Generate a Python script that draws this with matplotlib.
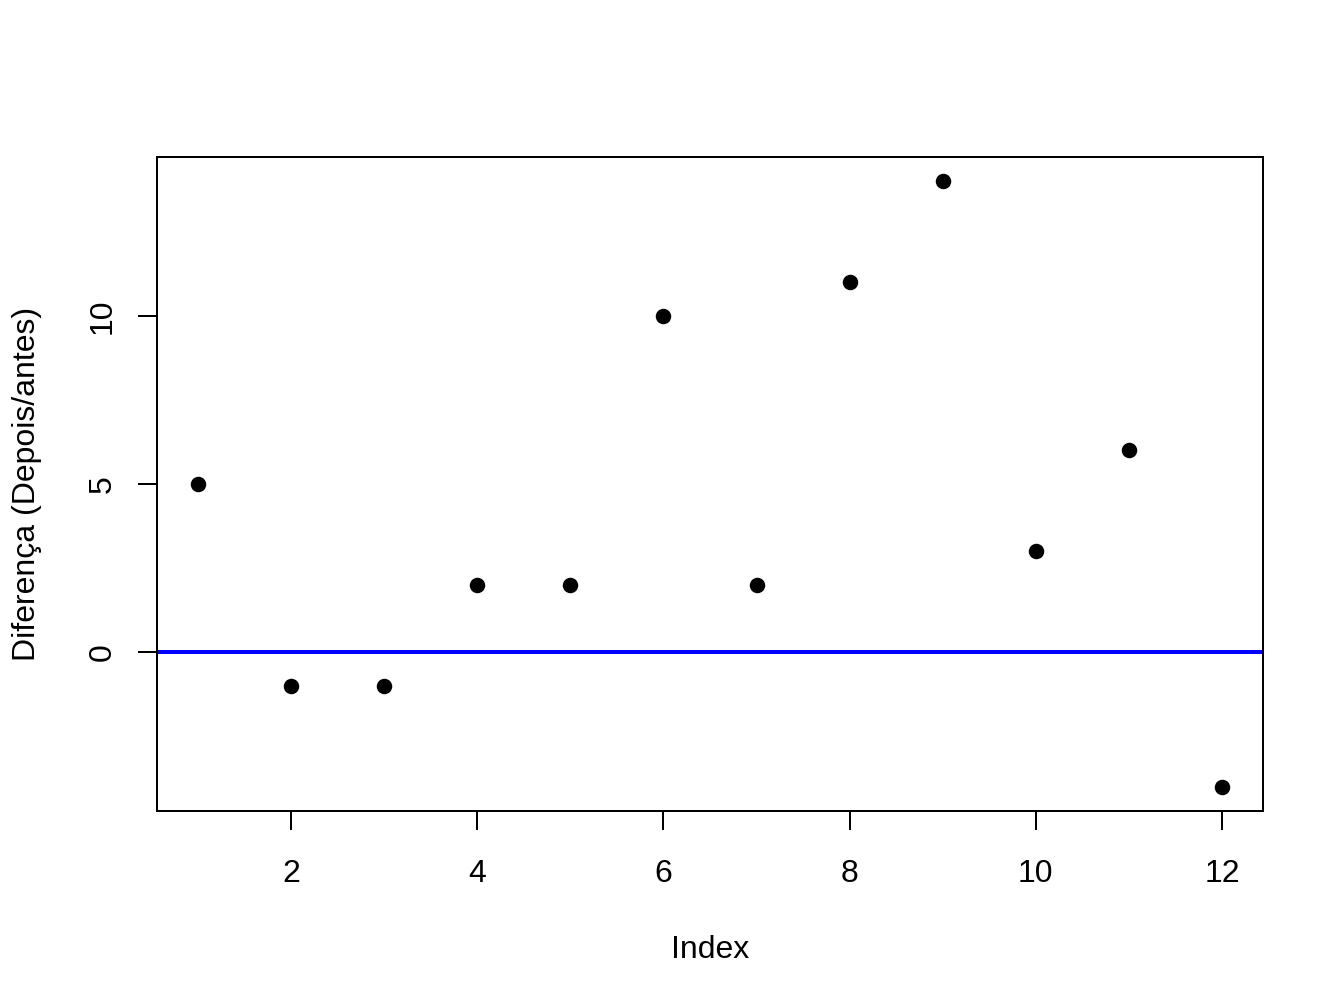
import numpy as np
import matplotlib
matplotlib.use("Agg")
from matplotlib import pyplot as plt

plt.rcParams['font.family'] = ['Liberation Sans', 'DejaVu Sans']

# Diferenca (depois - antes) por indice
index = np.arange(1, 13)
diferenca = [5, -1, -1, 2, 2, 10, 2, 11, 14, 3, 6, -4]
xticks = [2, 4, 6, 8, 10, 12]
yticks = [0, 5, 10]

fig = plt.figure(figsize=(7, 5.25), dpi=192)
ax = fig.add_axes([157 / 1344, 197 / 1008, 1106 / 1344, 654 / 1008])

ax.plot(index, diferenca, 'o', color='black', markersize=4.8, zorder=3)
ax.axhline(0, color='blue', linewidth=1.5)

ax.set_xlim(0.56, 12.44)
ax.set_ylim(-4.72, 14.72)
ax.set_xticks(xticks)
ax.set_yticks(yticks)
ax.set_yticklabels([str(t) for t in yticks], rotation=90, va='center')
ax.tick_params(axis='both', labelsize=12, length=7.3, width=0.75, direction='out')
ax.tick_params(axis='x', pad=10.6)
ax.tick_params(axis='y', pad=7.6)
for s in ax.spines.values():
    s.set_linewidth(0.75)

fig.text(710 / 1344, 1 - 950 / 1008, 'Index', ha='center', va='center', fontsize=12)
fig.text(27 / 1344, 1 - 484 / 1008, 'Diferença (Depois/antes)', ha='center', va='center',
         rotation=90, fontsize=12)

fig.savefig('out.png', dpi=192)
